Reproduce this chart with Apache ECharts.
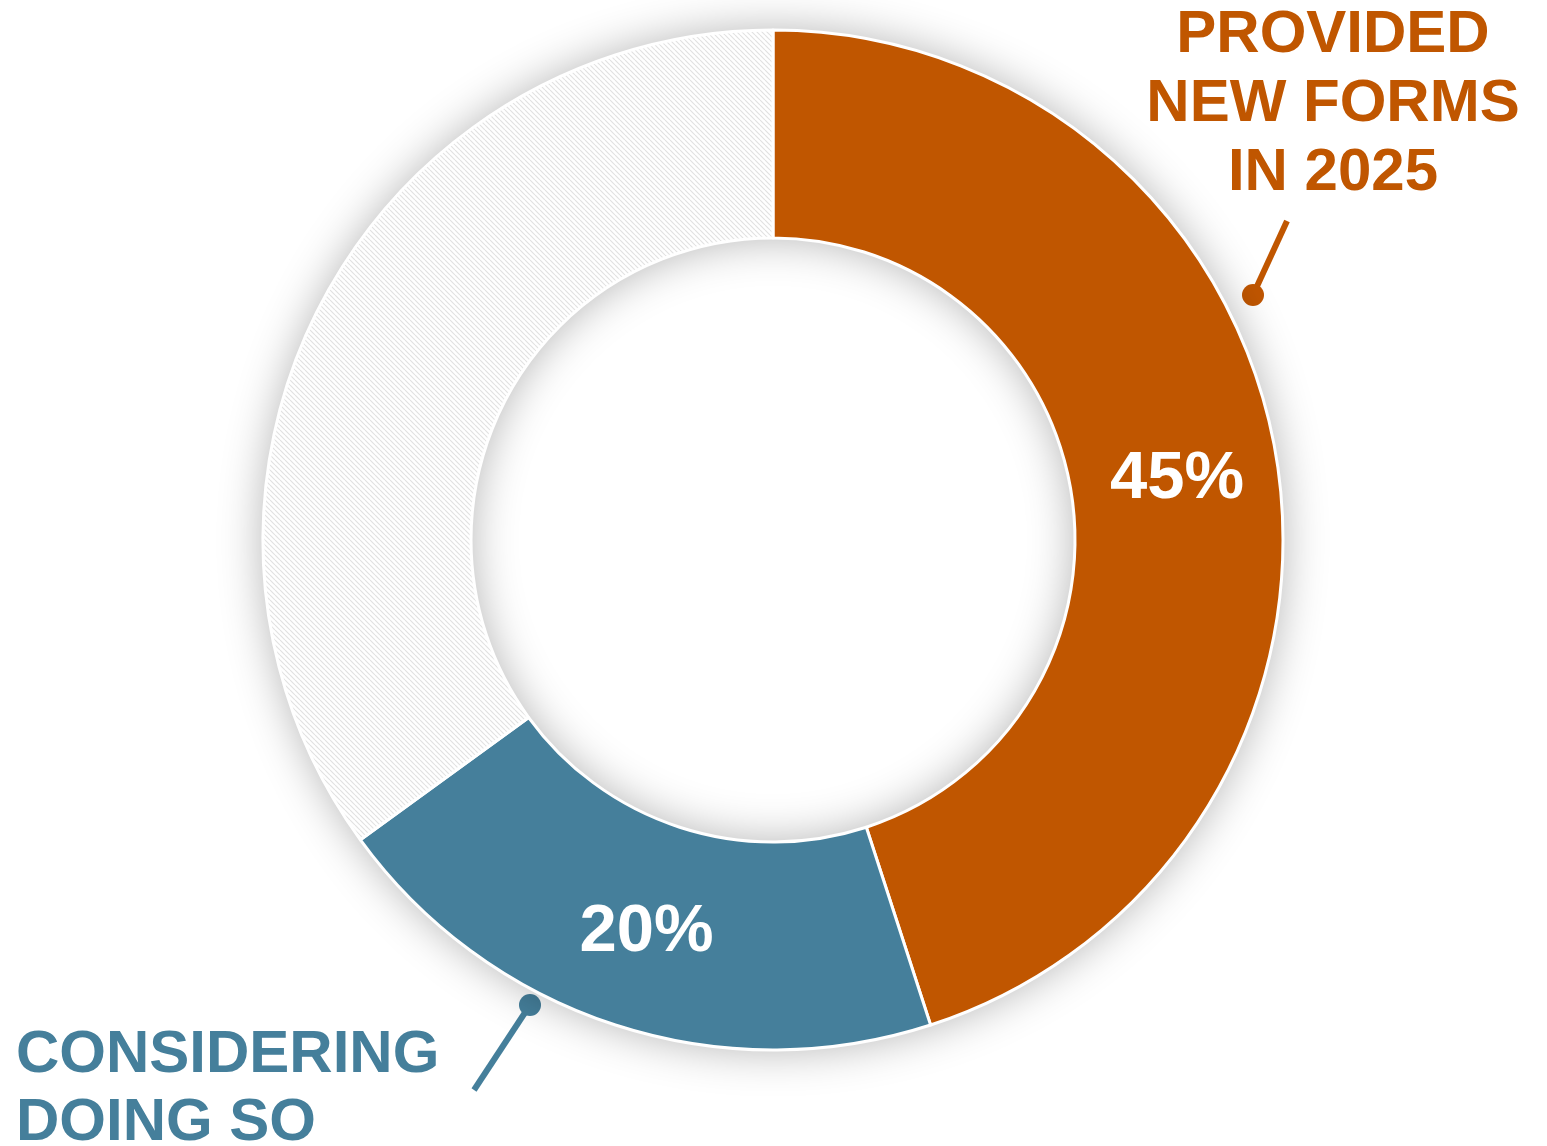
<!DOCTYPE html>
<html>
<head>
<meta charset="utf-8">
<script src="https://cdn.jsdelivr.net/npm/echarts@6/dist/echarts.min.js"></script>
<style>
  html, body { margin: 0; padding: 0; background: #ffffff; }
  #chart { width: 1547px; height: 1146px; }
</style>
</head>
<body>
<div id="chart"></div>
<script>
// data
const categories = ['Provided new forms in 2025', 'Considering doing so', 'Other'];
const shares = [45, 20, 35];
const colors = ['#c05600', '#457f9b', null];
const calloutTexts = ['PROVIDED\nNEW FORMS\nIN 2025', 'CONSIDERING\nDOING SO'];

// hatched fill for the remaining share
function hatch() {
    const c = document.createElement('canvas');
    c.width = 5; c.height = 5;
    const ctx = c.getContext('2d');
    ctx.fillStyle = '#ffffff';
    ctx.fillRect(0, 0, 5, 5);
    ctx.strokeStyle = '#e2e2e2';
    ctx.lineWidth = 1.2;
    for (let k = -5; k <= 5; k += 5) {
        ctx.beginPath();
        ctx.moveTo(k, 0);
        ctx.lineTo(k + 5, 5);
        ctx.stroke();
    }
    return c;
}

const center = ['773px', '540px'];
const radius = [302, 510];
const font = '"Liberation Sans", Arial, sans-serif';

const myChart = echarts.init(document.getElementById('chart'));
const option = {
    animation: false,
    series: [
        // ring behind with soft shadow
        {
            type: 'pie',
            silent: true,
            center: center,
            radius: radius,
            label: { show: false },
            itemStyle: {
                color: '#ffffff',
                shadowBlur: 45,
                shadowColor: 'rgba(0, 0, 0, 0.3)'
            },
            data: [{ value: 1 }]
        },
        {
            type: 'pie',
            center: center,
            radius: radius,
            startAngle: 90,
            clockwise: true,
            itemStyle: {
                borderColor: '#ffffff',
                borderWidth: 3
            },
            label: {
                position: 'inside',
                formatter: '{c}%',
                color: '#ffffff',
                fontFamily: font,
                fontWeight: 'bold',
                fontSize: 67,
                offset: [0, 4]
            },
            labelLine: { show: false },
            data: categories.map((name, i) => ({
                name: name,
                value: shares[i],
                itemStyle: { color: colors[i] || { image: hatch(), repeat: 'repeat' } },
                label: { show: i < 2 }
            }))
        }
    ],
    graphic: [
        {
            type: 'line',
            shape: { x1: 1253, y1: 295, x2: 1287, y2: 221 },
            style: { stroke: colors[0], lineWidth: 6 }
        },
        {
            type: 'circle',
            shape: { cx: 1253, cy: 295, r: 11 },
            style: { fill: colors[0] }
        },
        {
            type: 'text',
            x: 1333, y: 1,
            style: {
                text: calloutTexts[0],
                fill: colors[0],
                font: 'bold 60px ' + font,
                lineHeight: 69,
                align: 'center',
                verticalAlign: 'top'
            }
        },
        {
            type: 'line',
            shape: { x1: 530, y1: 1005, x2: 474, y2: 1090 },
            style: { stroke: colors[1], lineWidth: 6 }
        },
        {
            type: 'circle',
            shape: { cx: 530, cy: 1005, r: 11 },
            style: { fill: colors[1] }
        },
        {
            type: 'text',
            x: 16, y: 1021,
            style: {
                text: calloutTexts[1],
                fill: colors[1],
                font: 'bold 60px ' + font,
                lineHeight: 68,
                align: 'left',
                verticalAlign: 'top'
            }
        }
    ]
};

myChart && myChart.setOption(option);
</script>
</body>
</html>
